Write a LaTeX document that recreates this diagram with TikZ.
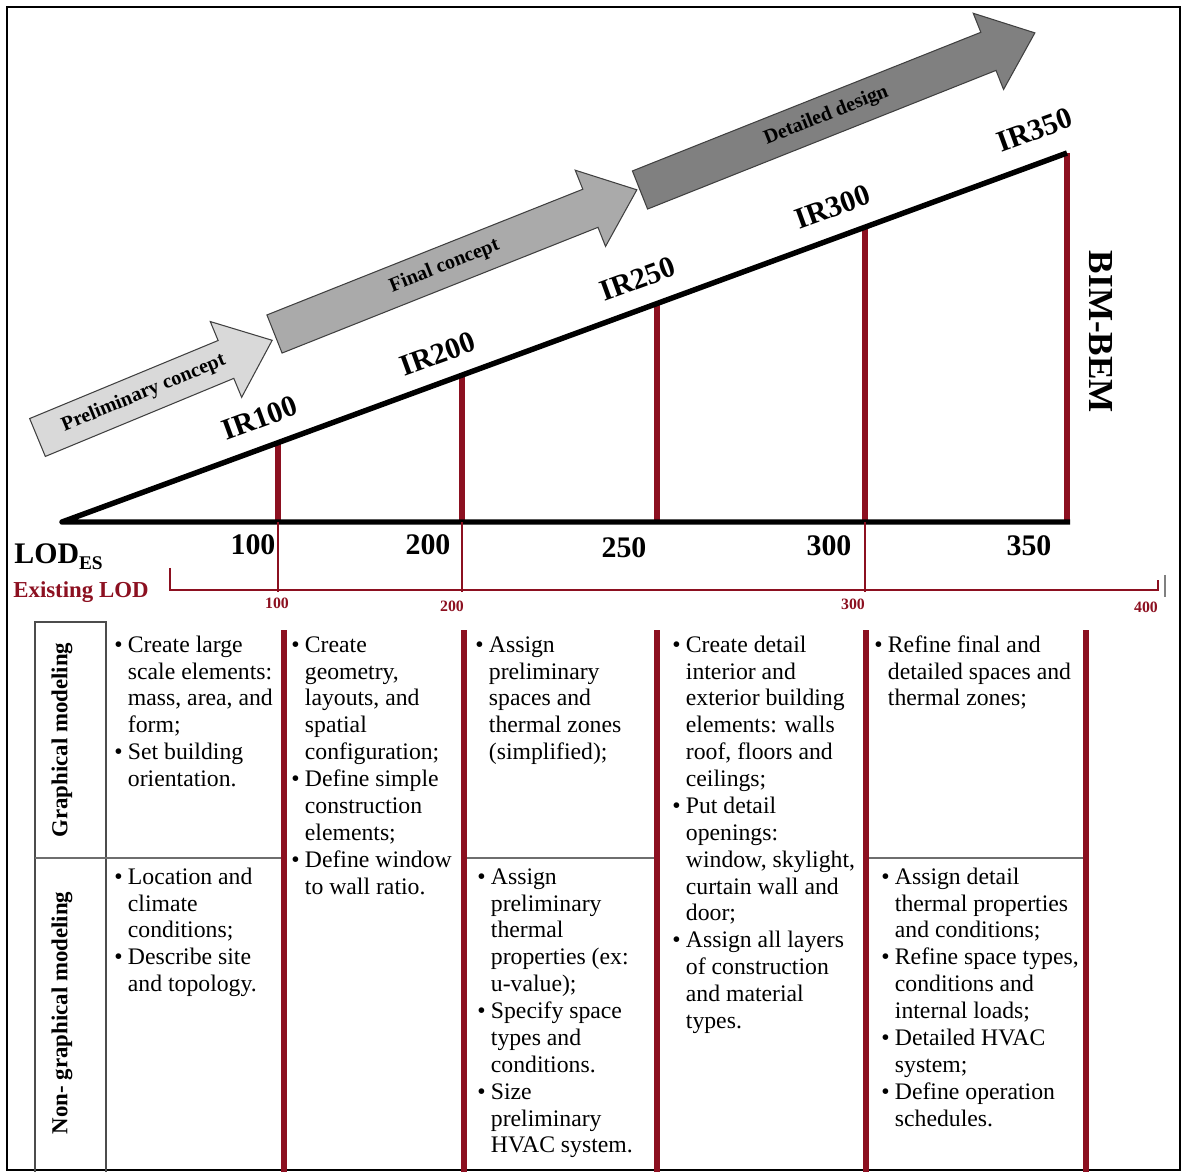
\documentclass[tikz,border=0pt]{standalone}
\usepackage{fontspec}
\setmainfont{Liberation Serif}

\definecolor{lodred}{RGB}{140,16,32}
\definecolor{stagelight}{RGB}{217,217,217}
\definecolor{stagemid}{RGB}{170,170,170}
\definecolor{stagedark}{RGB}{128,128,128}
\definecolor{rulegray}{RGB}{110,110,110}

\newcommand{\bodyfont}{\fontsize{13.5}{15.3}\selectfont}
\newenvironment{lodlist}{\begin{tabular}{@{}l@{\hspace{3pt}}l@{}}}{\end{tabular}}

\tikzset{
  lodbar/.style={draw=lodred, line width=3.4pt},
  lodthin/.style={draw=lodred, line width=0.7pt},
  irlabel/.style={font=\fontsize{17}{17}\selectfont\bfseries, rotate=20, inner sep=0pt},
  lodnum/.style={font=\fontsize{17}{17}\selectfont\bfseries, inner sep=0pt},
  scalenum/.style={font=\fontsize{9}{9}\selectfont\bfseries, text=lodred, inner sep=0pt},
  stagelabel/.style={font=\fontsize{11.5}{11.5}\selectfont\bfseries, inner sep=0pt},
  cell/.style={anchor=north west, inner sep=0pt, font=\bodyfont},
  rowlabel/.style={font=\fontsize{13}{13}\selectfont\bfseries, rotate=90, inner sep=0pt},
}

% name, tail middle, angle, length, fill, text
\newcommand{\stagearrow}[6]{%
  \begin{scope}[shift={#2}, rotate=#3]
    \draw[draw=black!75, line width=0.6pt, fill=#5]
      (0,-20.5) -- ({#4-50},-20.5) -- ({#4-50},-41) -- (#4,0)
      -- ({#4-50},41) -- ({#4-50},20.5) -- (0,20.5) -- cycle;
    \node[stagelabel, rotate=#3] (#1) at ({(#4-50)/2+13},0) {#6};
  \end{scope}}

\begin{document}
\begin{tikzpicture}[x=0.02cm, y=-0.02cm]
  \useasboundingbox (0,0) rectangle (1184,1172);

  % Frame
  \draw[line width=1.1pt] (7,7) rectangle (1180,1170);

  % Design stages
  \stagearrow{prelim}{(37.5,437.5)}{22.5}{254}{stagelight}{Preliminary concept}
  \stagearrow{final}{(274.5,334)}{21.7}{390}{stagemid}{Final concept}
  \stagearrow{detail}{(640,190)}{21.7}{425}{stagedark}{Detailed design}

  % Red bars under the slope
  \foreach \x/\y in {278/442.7, 462/375.1, 657/303.5, 865/227.2, 1067/153}
    \draw[lodbar] (\x,\y) -- (\x,522);

  % Slope and base
  \coordinate (origin) at (62,522);
  \coordinate (apex) at (1067,153);
  \draw[line width=3.1pt, line join=round] (1070,522) -- (origin) -- (apex);

  % IR labels
  \node[irlabel] (ir100) at (260,418) {IR100};
  \node[irlabel] (ir200) at (438,354) {IR200};
  \node[irlabel] (ir250) at (638,279) {IR250};
  \node[irlabel] (ir300) at (833,207) {IR300};
  \node[irlabel] (ir350) at (1035,130) {IR350};
  \node[font=\fontsize{20}{20}\selectfont\bfseries, rotate=-90, inner sep=0pt] (bimbem) at (1101,332) {BIM-BEM};

  % LOD values
  \node[lodnum] (n100) at (253,545) {100};
  \node[lodnum] (n200) at (428,545) {200};
  \node[lodnum] (n250) at (624,548) {250};
  \node[lodnum] (n300) at (829,546) {300};
  \node[lodnum] (n350) at (1029,546) {350};
  \node[anchor=west, inner sep=0pt, font=\fontsize{17}{17}\selectfont\bfseries] (lodes) at (14,557)
    {LOD\raisebox{-0.2em}{\fontsize{11}{11}\selectfont ES}};
  \node[anchor=west, inner sep=0pt, font=\fontsize{13}{13}\selectfont\bfseries, text=lodred] (existing) at (13,592) {Existing LOD};

  % Existing LOD scale
  \draw[lodthin] (170,568) -- (170,590) -- (1158,590) -- (1158,580);
  \draw[draw=gray, line width=0.7pt] (1165,575) -- (1165,597);
  \foreach \x in {278, 462, 865}
    \draw[lodthin] (\x,522) -- (\x,592);
  \node[scalenum] (s100) at (277,603) {100};
  \node[scalenum] (s200) at (452,606) {200};
  \node[scalenum] (s300) at (853,604) {300};
  \node[scalenum] (s400) at (1146,607) {400};

  % Table frame
  \draw[draw=black!70, line width=0.85pt] (35,1172) -- (35,622) -- (106,622) -- (106,1172);
  \draw[draw=rulegray, line width=1.4pt] (35,858) -- (284,858);
  \draw[draw=rulegray, line width=1.4pt] (464,858) -- (657,858);
  \draw[draw=rulegray, line width=1.4pt] (866,858) -- (1086,858);
  \foreach \x in {284, 464, 657, 866, 1086}
    \draw[draw=lodred, line width=2.9pt] (\x,630) -- (\x,1172);

  % Row labels
  \node[rowlabel] (graph) at (62,740) {Graphical modeling};
  \node[rowlabel] (nongraph) at (62,1013) {Non- graphical modeling};

  % Cells
  \node[cell] (c1a) at (114,633) {\begin{lodlist}
    \textbullet & Create large\\
     & scale elements:\\
     & mass, area, and\\
     & form;\\
    \textbullet & Set building\\
     & orientation.
  \end{lodlist}};
  \node[cell] (c1b) at (114,865) {\begin{lodlist}
    \textbullet & Location and\\
     & climate\\
     & conditions;\\
    \textbullet & Describe site\\
     & and topology.
  \end{lodlist}};
  \node[cell] (c2) at (291,633) {\begin{lodlist}
    \textbullet & Create\\
     & geometry,\\
     & layouts, and\\
     & spatial\\
     & configuration;\\
    \textbullet & Define simple\\
     & construction\\
     & elements;\\
    \textbullet & Define window\\
     & to wall ratio.
  \end{lodlist}};
  \node[cell] (c3a) at (475,633) {\begin{lodlist}
    \textbullet & Assign\\
     & preliminary\\
     & spaces and\\
     & thermal zones\\
     & (simplified);
  \end{lodlist}};
  \node[cell] (c3b) at (477,865) {\begin{lodlist}
    \textbullet & Assign\\
     & preliminary\\
     & thermal\\
     & properties (ex:\\
     & u-value);\\
    \textbullet & Specify space\\
     & types and\\
     & conditions.\\
    \textbullet & Size\\
     & preliminary\\
     & HVAC system.
  \end{lodlist}};
  \node[cell] (c4) at (672,633) {\begin{lodlist}
    \textbullet & Create detail\\
     & interior and\\
     & exterior building\\
     & elements: walls\\
     & roof, floors and\\
     & ceilings;\\
    \textbullet & Put detail\\
     & openings:\\
     & window, skylight,\\
     & curtain wall and\\
     & door;\\
    \textbullet & Assign all layers\\
     & of construction\\
     & and material\\
     & types.
  \end{lodlist}};
  \node[cell] (c5a) at (874,633) {\begin{lodlist}
    \textbullet & Refine final and\\
     & detailed spaces and\\
     & thermal zones;
  \end{lodlist}};
  \node[cell] (c5b) at (881,865) {\begin{lodlist}
    \textbullet & Assign detail\\
     & thermal properties\\
     & and conditions;\\
    \textbullet & Refine space types,\\
     & conditions and\\
     & internal loads;\\
    \textbullet & Detailed HVAC\\
     & system;\\
    \textbullet & Define operation\\
     & schedules.
  \end{lodlist}};
\end{tikzpicture}
\end{document}
